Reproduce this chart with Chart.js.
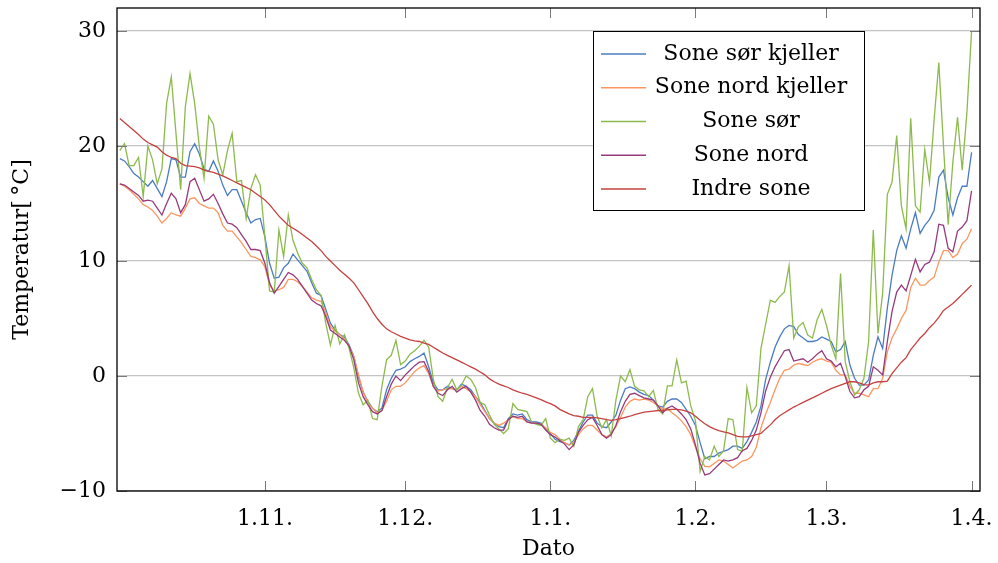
<!DOCTYPE html>
<html>
<head>
<meta charset="utf-8">
<title>Temperatur per sone</title>
<script src="https://cdn.jsdelivr.net/npm/chart.js@4.4.1/dist/chart.umd.min.js"></script>
<style>
  html, body { margin: 0; padding: 0; background: #fff; }
  #wrap { width: 998px; height: 563px; }
</style>
</head>
<body>
<div id="wrap"><canvas id="tempChart" width="998" height="563"></canvas></div>
<script>
// Daglig temperatur per sone, dag 0 = 1. oktober, siste dag = 1. april

const soneSorKjeller = [
    18.9, 18.7, 18.2, 17.6, 17.3, 16.9, 16.5, 17.0, 16.3, 15.6,
    16.9, 18.9, 18.8, 17.3, 17.3, 19.5, 20.2, 19.3, 18.0, 17.8,
    18.7, 17.8, 16.6, 15.7, 16.2, 16.2, 15.2, 14.2, 13.3, 13.6,
    13.7, 12.1, 9.8, 8.5, 8.6, 9.4, 9.8, 10.6, 10.1, 9.6,
    9.1, 8.1, 7.2, 7.0, 5.8, 4.6, 4.0, 3.6, 3.4, 2.7,
    1.7, -0.1, -1.4, -2.2, -2.8, -3.1, -2.8, -1.2, -0.2, 0.5,
    0.6, 0.8, 1.25, 1.5, 1.7, 2.0, 0.8, -0.6, -1.2, -1.2,
    -0.9, -1.1, -1.2, -0.7, -0.9, -1.2, -1.8, -2.3, -3.0, -3.7,
    -4.1, -4.4, -4.5, -3.7, -3.3, -3.4, -3.3, -3.8, -4.0, -4.0,
    -4.1, -4.6, -5.0, -5.5, -5.7, -5.8, -6.0, -5.6, -4.8, -4.0,
    -3.4, -3.4, -4.1, -4.4, -4.5, -4.0, -3.4, -2.1, -1.1, -0.95,
    -1.1, -1.4, -1.6, -1.7, -2.1, -2.6, -2.7, -2.2, -2.0, -2.0,
    -2.3, -2.9, -3.5, -4.3, -5.8, -7.2, -7.0, -7.0, -6.7, -6.55,
    -6.4, -6.1, -6.1, -6.3, -5.7, -4.9, -4.0, -2.6, -0.3, 1.2,
    2.5, 3.4, 4.1, 4.4, 4.3, 3.6, 3.3, 3.0, 3.0, 3.1,
    3.4, 3.2, 3.0, 2.1, 2.3, 3.0, 0.95, -0.2, -0.8, -0.8,
    -0.35, 1.8, 3.4, 2.4, 5.9, 8.75, 10.9, 12.2, 11.1, 12.8,
    14.2, 12.4, 13.1, 13.6, 14.4, 17.3, 17.9, 15.5, 14.0, 15.5,
    16.5, 16.5, 19.45
];

const soneNordKjeller = [
    16.7, 16.5, 16.2, 15.8, 15.4, 14.9, 14.7, 14.4, 13.9, 13.3,
    13.7, 14.2, 14.0, 13.9, 14.6, 15.4, 15.5, 15.0, 14.8, 14.6,
    14.6, 14.2, 13.1, 12.6, 12.6, 12.1, 11.6, 11.0, 10.4, 10.3,
    10.1, 9.5, 7.9, 7.4, 7.5, 7.7, 8.4, 8.4, 8.2, 7.8,
    7.3, 6.8, 6.6, 6.5, 5.5, 4.3, 3.9, 3.6, 3.2, 2.6,
    1.7, 0.1, -1.4, -2.3, -2.8, -3.2, -3.0, -2.2, -1.2, -0.9,
    -0.9, -0.6, -0.1, 0.4, 0.7, 0.9, 0.2, -0.9, -1.3, -1.2,
    -1.1, -1.1, -1.2, -0.9, -1.1, -1.4, -1.8, -2.5, -3.1, -3.7,
    -4.1, -4.3, -4.1, -3.8, -3.5, -3.7, -3.7, -4.0, -4.1, -4.1,
    -4.2, -4.5, -4.9, -5.1, -5.5, -5.8, -6.0, -5.8, -5.1, -4.6,
    -4.3, -4.3, -4.7, -5.1, -5.3, -5.0, -4.4, -3.6, -2.7, -2.2,
    -2.0, -2.1, -2.0, -2.1, -2.3, -2.6, -2.9, -2.8, -3.2, -3.5,
    -3.9, -4.4, -5.1, -6.2, -7.2, -7.85, -7.9, -7.6, -7.3, -7.4,
    -7.7, -8.0, -7.7, -7.4, -7.3, -7.0, -6.2, -4.5, -3.3, -2.3,
    -1.2, -0.2, 0.5, 0.6, 0.95, 1.1, 1.0, 0.9, 1.2, 1.4,
    1.5, 1.3, 1.2, 0.5, 0.1, 0.1, -0.9, -1.5, -1.5, -1.65,
    -1.8, -1.1, -1.1, -0.2, 2.1, 3.3, 4.1, 5.0, 5.7, 7.7,
    8.5, 7.9, 7.9, 8.3, 8.6, 9.9, 10.9, 10.9, 10.3, 10.6,
    11.5, 11.9, 12.8
];

const soneSor = [
    19.6, 20.2, 18.3, 18.3, 19.0, 15.6, 20.0, 18.8, 16.7, 18.0,
    23.7, 26.0, 21.1, 16.2, 23.4, 26.3, 23.7, 19.9, 17.2, 22.6,
    21.9, 18.8, 17.5, 19.6, 21.1, 16.9, 17.0, 13.7, 16.3, 17.5,
    16.6, 12.1, 7.4, 7.3, 12.7, 10.4, 14.0, 11.8, 10.7, 9.8,
    9.4, 8.4, 7.5, 7.0, 4.6, 2.7, 4.4, 2.8, 3.6, 2.4,
    0.7, -1.5, -2.5, -2.1, -3.7, -3.8, -0.9, 1.4, 1.8, 3.1,
    1.0, 1.3, 1.9, 2.2, 2.6, 3.1, 2.5, -0.3, -1.8, -2.2,
    -1.0, -0.3, -1.2, -0.8, 0.0, -0.3, -1.0, -2.3, -2.5, -3.4,
    -4.2, -4.6, -5.0, -4.6, -2.4, -2.9, -3.0, -3.1, -4.0, -4.2,
    -4.3, -3.7, -5.4, -5.8, -5.5, -5.6, -5.4, -6.1, -4.4, -3.8,
    -1.8, -1.1, -3.5, -4.5, -3.8, -5.2, -2.1, 0.0, -0.5, 0.55,
    -0.9, -1.2, -1.3, -1.8, -1.25, -2.9, -3.3, -0.85, -0.85, 1.4,
    -0.6, -0.45, -2.6, -3.9, -8.3, -7.0, -7.3, -6.1, -7.0, -6.5,
    -3.7, -3.8, -6.4, -6.55, -1.0, -3.2, -2.6, 2.4, 4.5, 6.6,
    6.4, 6.9, 7.3, 9.6, 3.3, 4.3, 4.65, 3.55, 3.3, 4.9,
    5.8, 4.4, 2.7, 1.5, 8.9, 1.25, -0.5, -1.65, -1.2, -0.2,
    3.0, 12.7, 3.7, 7.2, 15.8, 16.85, 20.9, 14.8, 12.8, 22.4,
    14.8, 14.25, 19.7, 16.85, 22.3, 27.25, 20.0, 13.15, 18.6, 22.5,
    17.9, 22.9, 30.0
];

const soneNord = [
    16.7, 16.6, 16.3, 16.0, 15.7, 15.2, 15.3, 15.2, 14.6, 14.0,
    15.0, 15.9, 15.4, 14.2, 14.9, 16.9, 17.2, 16.2, 15.2, 15.4,
    15.8, 15.0, 14.1, 13.3, 13.2, 12.9, 12.3, 11.7, 11.0, 11.0,
    10.9, 9.8, 8.1, 7.2, 7.8, 8.4, 9.0, 8.8, 8.4, 7.8,
    7.2, 6.6, 6.3, 6.1, 5.2, 4.0, 3.7, 3.4, 3.1, 2.6,
    1.4, -0.6, -1.8, -2.5, -3.1, -3.3, -3.0, -1.8, -0.7, 0.0,
    -0.4, 0.1, 0.5, 0.9, 1.2, 1.25, 0.4, -0.9, -1.5, -1.7,
    -1.2, -0.9, -1.4, -1.1, -0.9, -1.4, -2.1, -3.0, -3.5, -4.2,
    -4.5, -4.7, -4.7, -3.8, -3.5, -3.6, -3.5, -4.0, -4.1, -4.1,
    -4.2, -4.7, -5.1, -5.3, -5.6, -5.9, -6.4, -6.0, -4.9, -4.3,
    -3.8, -3.6, -4.3, -5.1, -5.4, -5.1, -4.3, -3.1, -2.2, -1.6,
    -1.5, -1.7, -1.9, -2.0, -2.1, -2.6, -3.2, -2.8, -2.6, -2.9,
    -3.3, -3.8, -4.6, -6.0, -7.6, -8.6, -8.5, -8.1, -7.7, -7.3,
    -7.4, -7.3, -7.1, -6.5, -6.3, -5.6, -4.7, -3.2, -1.3, -0.1,
    0.8, 1.5, 2.2, 2.3, 1.3, 1.4, 1.5, 1.2, 1.5, 1.9,
    2.2, 1.5, 1.3, 0.8, 1.1, -0.05, -1.35, -1.9, -1.8, -1.2,
    -0.9, 0.8, 0.5, 0.1, 3.0, 5.6, 7.3, 7.9, 7.4, 8.75,
    10.15, 9.05, 9.7, 9.9, 10.8, 13.2, 13.1, 11.1, 10.8, 12.6,
    12.95, 13.5, 16.1
];

const indreSone = [
    22.4, 22.05, 21.7, 21.35, 21.0, 20.6, 20.3, 20.1, 19.9, 19.5,
    19.2, 19.0, 18.9, 18.5, 18.3, 18.25, 18.2, 18.1, 17.9, 17.8,
    17.7, 17.55, 17.4, 17.2, 17.0, 16.8, 16.6, 16.4, 16.2, 15.9,
    15.6, 15.3, 14.9, 14.4, 13.9, 13.5, 13.1, 12.85, 12.6, 12.3,
    12.0, 11.7, 11.3, 10.9, 10.4, 10.0, 9.6, 9.2, 8.85, 8.5,
    8.1, 7.5, 6.9, 6.3, 5.6, 5.0, 4.5, 4.1, 3.85, 3.65,
    3.45, 3.3, 3.15, 3.05, 3.0, 2.85, 2.75, 2.5, 2.25, 2.0,
    1.8, 1.6, 1.4, 1.2, 1.0, 0.8, 0.6, 0.35, 0.1, -0.25,
    -0.5, -0.7, -0.85, -1.0, -1.2, -1.35, -1.5, -1.6, -1.75, -1.9,
    -2.05, -2.25, -2.4, -2.6, -2.9, -3.1, -3.3, -3.45, -3.5, -3.6,
    -3.6, -3.6, -3.65, -3.7, -3.8, -3.85, -3.8, -3.7, -3.6, -3.5,
    -3.35, -3.25, -3.15, -3.1, -3.05, -3.0, -3.0, -2.95, -2.9, -2.9,
    -2.95, -3.05, -3.2, -3.5, -3.85, -4.15, -4.4, -4.6, -4.75, -4.85,
    -4.95, -5.1, -5.25, -5.3, -5.3, -5.2, -5.1, -5.0, -4.6, -4.25,
    -3.8, -3.45, -3.2, -2.95, -2.7, -2.5, -2.3, -2.1, -1.9, -1.7,
    -1.5, -1.3, -1.1, -0.95, -0.8, -0.65, -0.5, -0.5, -0.6, -0.75,
    -0.8, -0.6, -0.5, -0.5, -0.45, 0.2, 0.7, 1.2, 1.6, 2.3,
    2.8, 3.3, 3.7, 4.2, 4.6, 5.1, 5.7, 6.0, 6.3, 6.7,
    7.1, 7.5, 7.9
];

// Months start at these day numbers (counted from 1. oktober)
const monthTicks = [31, 61, 92, 123, 151, 182];
const monthLabels = ['1.11.', '1.12.', '1.1.', '1.2.', '1.3.', '1.4.'];
const yTicks = [-10, 0, 10, 20, 30];

const days = soneSorKjeller.map((_, i) => i);

const FONT_FAMILY = "'DejaVu Serif', serif";
const FONT_SIZE = 22;

const series = [
    { label: 'Sone sør kjeller', data: soneSorKjeller, color: '#4a7cc2' },
    { label: 'Sone nord kjeller', data: soneNordKjeller, color: '#fb9660' },
    { label: 'Sone sør', data: soneSor, color: '#8dba4c' },
    { label: 'Sone nord', data: soneNord, color: '#973a7c' },
    { label: 'Indre sone', data: indreSone, color: '#c4423f' }
];

// frame, inner tick marks, axis titles and the boxed legend
const framePlugin = {
    id: 'frame',
    afterDraw(chart) {
        const { ctx, chartArea: a, scales } = chart;
        ctx.save();

        ctx.strokeStyle = '#7a7a7a';
        ctx.lineWidth = 1;
        ctx.beginPath();
        monthTicks.forEach(v => {
            const x = Math.round(scales.x.getPixelForValue(v)) + 0.5;
            ctx.moveTo(x, a.bottom);
            ctx.lineTo(x, a.bottom - 10);
            ctx.moveTo(x, a.top);
            ctx.lineTo(x, a.top + 10);
        });
        yTicks.forEach(v => {
            const y = Math.round(scales.y.getPixelForValue(v)) + 0.5;
            ctx.moveTo(a.left, y);
            ctx.lineTo(a.left + 10, y);
            ctx.moveTo(a.right, y);
            ctx.lineTo(a.right - 10, y);
        });
        ctx.stroke();

        ctx.strokeStyle = '#000';
        ctx.lineWidth = 1.3;
        ctx.strokeRect(a.left, a.top, a.right - a.left, a.bottom - a.top);

        ctx.fillStyle = '#000';
        ctx.font = FONT_SIZE + 'px ' + FONT_FAMILY;
        ctx.textAlign = 'center';
        ctx.textBaseline = 'middle';
        ctx.fillText('Dato', (a.left + a.right) / 2, 549);

        ctx.save();
        ctx.translate(22, (a.top + a.bottom) / 2);
        ctx.rotate(-Math.PI / 2);
        ctx.fillText('Temperatur[\u2009°C]', 0, 0);
        ctx.restore();

        // legend
        const box = { x: 593, y: 31, w: 271, h: 179 };
        ctx.fillStyle = '#fff';
        ctx.fillRect(box.x, box.y, box.w, box.h);
        ctx.strokeStyle = '#000';
        ctx.lineWidth = 1;
        ctx.strokeRect(box.x + 0.5, box.y + 0.5, box.w, box.h);

        chart.data.datasets.forEach((ds, i) => {
            const y = box.y + 23 + i * 33.75;
            ctx.strokeStyle = ds.borderColor;
            ctx.lineWidth = 1.3;
            ctx.beginPath();
            ctx.moveTo(601, y);
            ctx.lineTo(646, y);
            ctx.stroke();
            ctx.fillStyle = '#000';
            ctx.fillText(ds.label, 751, y);
        });

        ctx.restore();
    }
};

const chart = new Chart(document.getElementById('tempChart'), {
    type: 'line',
    data: {
        labels: days,
        datasets: series.map((s, i) => ({
            label: s.label,
            data: s.data,
            borderColor: s.color,
            backgroundColor: s.color,
            borderWidth: 1.3,
            pointRadius: 0,
            tension: 0,
            fill: false,
            order: series.length - i
        }))
    },
    options: {
        responsive: false,
        animation: false,
        devicePixelRatio: 1,
        layout: { padding: { top: 8, right: 18, left: 0, bottom: 0 } },
        plugins: {
            legend: { display: false },
            tooltip: { enabled: false }
        },
        scales: {
            x: {
                type: 'linear',
                min: -0.6,
                max: 183.8,
                afterBuildTicks: scale => {
                    scale.ticks = monthTicks.map(v => ({ value: v }));
                },
                afterFit: scale => {
                    scale.height = 72;
                    scale.paddingLeft = 0;
                    scale.paddingRight = 0;
                },
                ticks: {
                    autoSkip: false,
                    maxRotation: 0,
                    padding: 7,
                    color: '#000',
                    font: { family: FONT_FAMILY, size: FONT_SIZE },
                    callback: v => monthLabels[monthTicks.indexOf(v)]
                },
                grid: { display: false },
                border: { display: false }
            },
            y: {
                min: -10,
                max: 32,
                afterBuildTicks: scale => {
                    scale.ticks = yTicks.map(v => ({ value: v }));
                },
                afterFit: scale => {
                    scale.width = 117;
                    scale.paddingTop = 0;
                    scale.paddingBottom = 0;
                },
                ticks: {
                    padding: 11,
                    color: '#000',
                    font: { family: FONT_FAMILY, size: FONT_SIZE },
                    callback: v => (v < 0 ? '\u2212' + Math.abs(v) : String(v))
                },
                grid: {
                    color: '#c4c4c4',
                    lineWidth: 1.3,
                    drawTicks: false
                },
                border: { display: false }
            }
        }
    },
    plugins: [framePlugin]
});
</script>
</body>
</html>
